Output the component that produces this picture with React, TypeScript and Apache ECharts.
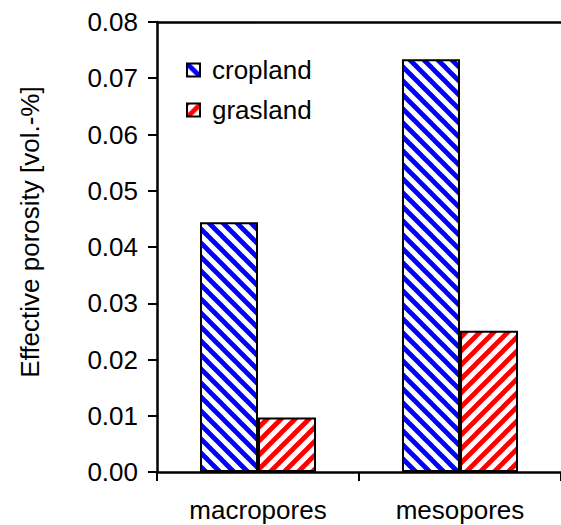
import React, { useEffect, useRef } from "react";
import * as echarts from "echarts";

const categories = ["macropores", "mesopores"];
const seriesNames = ["cropland", "grasland"];
const croplandValues = [0.0444, 0.0734];
const graslandValues = [0.0097, 0.0251];
const yTicks = { min: 0, max: 0.08, interval: 0.01 };
const yTitle = "Effective porosity [vol.-%]";

const FONT = "'Liberation Sans', Arial, sans-serif";
const FS = 26;

function makePattern(color: string, dir: "back" | "fwd") {
  const s = 14;
  const c = document.createElement("canvas");
  c.width = s;
  c.height = s;
  const ctx = c.getContext("2d")!;
  ctx.fillStyle = "#ffffff";
  ctx.fillRect(0, 0, s, s);
  ctx.strokeStyle = color;
  ctx.lineWidth = 4.8;
  for (const k of [-s, 0, s]) {
    ctx.beginPath();
    if (dir === "back") {
      ctx.moveTo(k - 3, -3);
      ctx.lineTo(k + s + 3, s + 3);
    } else {
      ctx.moveTo(k - 3, s + 3);
      ctx.lineTo(k + s + 3, -3);
    }
    ctx.stroke();
  }
  return { image: c, repeat: "repeat" as const };
}

export default function App() {
  const ref = useRef<HTMLDivElement>(null);
  useEffect(() => {
    document.body.style.margin = "0";
    if (!ref.current) return;
    const chart = echarts.init(ref.current, undefined, { renderer: "svg" });
    const bluePat = makePattern("#0000ff", "back");
    const redPat = makePattern("#ff0000", "fwd");
    const axisLine = { lineStyle: { color: "#000", width: 2.5 } };
    chart.setOption({
      animation: false,
      backgroundColor: "#fff",
      textStyle: { fontFamily: FONT },
      grid: { left: 157, right: 0, top: 22, bottom: 53, containLabel: false },
      legend: {
        orient: "vertical",
        left: 186,
        top: 57,
        padding: 0,
        itemWidth: 13,
        itemHeight: 13,
        itemGap: 14,
        icon: "rect",
        selectedMode: false,
        itemStyle: { borderColor: "#000", borderWidth: 2 },
        textStyle: { fontSize: FS, color: "#000", fontFamily: FONT, padding: [0, 0, 0, 7] },
        data: seriesNames,
      },
      xAxis: [
        {
          type: "category",
          data: categories,
          axisLine,
          axisTick: { show: true, length: 9, lineStyle: { color: "#000", width: 2 } },
          axisLabel: { fontSize: FS, color: "#000", margin: 25, fontFamily: FONT },
        },
        {
          type: "category",
          data: categories,
          position: "top",
          axisLine,
          axisTick: { show: false },
          axisLabel: { show: false },
        },
      ],
      yAxis: {
        type: "value",
        min: yTicks.min,
        max: yTicks.max,
        interval: yTicks.interval,
        axisLine: { show: true, ...axisLine },
        axisTick: { show: true, length: 9, lineStyle: { color: "#000", width: 2 } },
        splitLine: { show: false },
        axisLabel: {
          fontSize: FS,
          color: "#000",
          margin: 19,
          fontFamily: FONT,
          formatter: (v: number) => v.toFixed(2),
        },
      },
      graphic: [
        {
          type: "text",
          x: 30,
          y: 232,
          rotation: Math.PI / 2,
          style: {
            text: yTitle,
            fontSize: FS,
            fill: "#000",
            fontFamily: FONT,
            align: "center",
            verticalAlign: "middle",
          },
        },
      ],
      series: [
        {
          name: seriesNames[0],
          type: "bar",
          data: croplandValues,
          barWidth: 58,
          barGap: "0%",
          itemStyle: { color: bluePat, borderColor: "#000", borderWidth: 2 },
        },
        {
          name: seriesNames[1],
          type: "bar",
          data: graslandValues,
          barWidth: 58,
          barGap: "0%",
          itemStyle: { color: redPat, borderColor: "#000", borderWidth: 2 },
        },
      ],
    });
    return () => chart.dispose();
  }, []);
  return <div ref={ref} style={{ width: 561, height: 525 }} />;
}
